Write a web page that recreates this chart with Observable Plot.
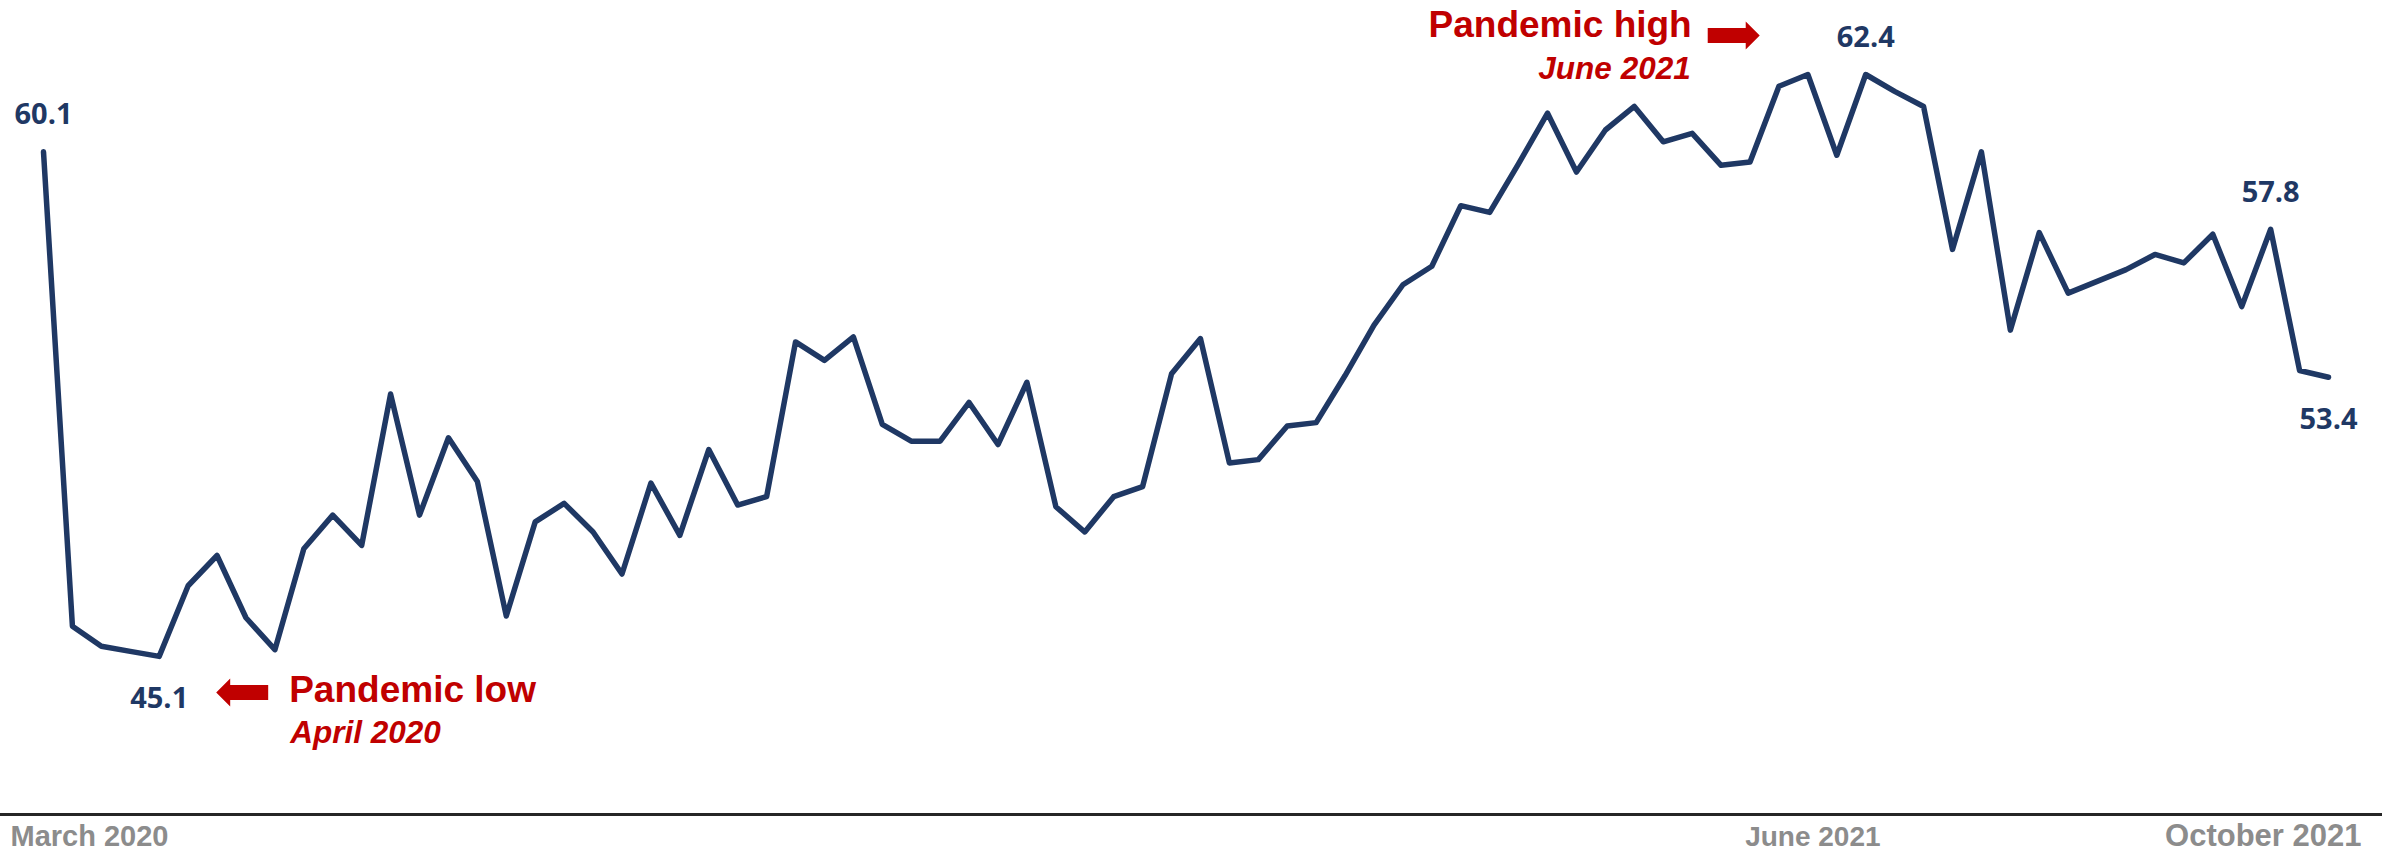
<!DOCTYPE html>
<html>
<head>
<meta charset="utf-8">
<script src="https://cdn.jsdelivr.net/npm/d3@7"></script>
<script src="https://cdn.jsdelivr.net/npm/@observablehq/plot@0.6"></script>
<style>
  html, body { margin: 0; padding: 0; background: #ffffff; }
  #chart svg { display: block; }
</style>
</head>
<body>
<div id="chart"></div>
<script>
// Weekly index values, March 2020 – October 2021
const values = [
  60.1, 46.0, 45.4, 45.25, 45.1, 47.2, 48.1, 46.25, 45.3, 48.3,
  49.3, 48.4, 52.9, 49.3, 51.6, 50.3, 46.3, 49.1, 49.65, 48.8,
  47.55, 50.25, 48.7, 51.25, 49.6, 49.85, 54.45, 53.9, 54.6, 52.0,
  51.5, 51.5, 52.65, 51.4, 53.25, 49.55, 48.8, 49.85, 50.15, 53.5,
  54.55, 50.85, 50.95, 51.95, 52.05, 53.45, 54.95, 56.15, 56.7, 58.5,
  58.3, 59.75, 61.25, 59.5, 60.75, 61.45, 60.4, 60.65, 59.7, 59.8,
  62.05, 62.4, 60.0, 62.4, 61.9, 61.45, 57.2, 60.1, 54.8, 57.7,
  55.9, 56.25, 56.6, 57.05, 56.8, 57.65, 55.5, 57.8, 53.6, 53.4
];
const weeks = values.map((_, i) => i);

// Axis tick labels
const tickWeeks = [0, 61, 79];
const tickLabels = ["March 2020", "June 2021", "October 2021"];

// Value labels
const labelAboveWeeks = [0, 63, 77];
const labelBelowWeeks = [4, 79];

// Annotations
const annoWeeks = [4, 63];
const annoTitles = ["Pandemic low", "Pandemic high"];
const annoDates = ["April 2020", "June 2021"];

const yDomain = [40.4, 64.6];

const NAVY = "#1f3864";
const RED = "#c00000";
const GRAY = "#8c8c8c";

const data = weeks.map((w, i) => ({week: w, value: values[i]}));
const pick = (ws) => ws.map(w => data[w]);
const fmt = d3.format(".1f");

function blockArrow(dir) {
  return {
    draw(ctx) {
      const L = 26, hb = 12, hh = 14, sh = 7.5, s = dir;
      ctx.moveTo(s * L, 0);
      ctx.lineTo(s * hb, -hh);
      ctx.lineTo(s * hb, -sh);
      ctx.lineTo(-s * L, -sh);
      ctx.lineTo(-s * L, sh);
      ctx.lineTo(s * hb, sh);
      ctx.lineTo(s * hb, hh);
      ctx.closePath();
    }
  };
}

const low = data[annoWeeks[0]];
const high = data[annoWeeks[1]];

const labelFont = "'Open Sans', 'DejaVu Sans', sans-serif";
const arial = "'Liberation Sans', Arial, sans-serif";

const chart = Plot.plot({
  width: 2389,
  height: 859,
  marginLeft: 43,
  marginRight: 61,
  marginTop: 0,
  marginBottom: 45,
  x: {domain: [weeks[0], weeks[weeks.length - 1]], axis: null},
  y: {domain: yDomain, axis: null},
  style: {background: "#ffffff", overflow: "visible"},
  marks: [
    Plot.ruleY([yDomain[0]], {stroke: "#262626", strokeWidth: 3, insetLeft: -43, insetRight: -54}),
    Plot.line(data, {x: "week", y: "value", stroke: NAVY, strokeWidth: 5.5, strokeLinejoin: "round"}),
    // value labels
    Plot.text(pick(labelAboveWeeks), {x: "week", y: "value", text: d => fmt(d.value), dy: -37,
      fill: NAVY, fontSize: 29, fontWeight: "bold", fontFamily: labelFont}),
    Plot.text(pick(labelBelowWeeks), {x: "week", y: "value", text: d => fmt(d.value), dy: 42,
      fill: NAVY, fontSize: 29, fontWeight: "bold", fontFamily: labelFont}),
    // pandemic low annotation
    Plot.dot([low], {x: "week", y: "value", symbol: blockArrow(-1), fill: RED, dx: 83, dy: 36}),
    Plot.text([low], {x: "week", y: "value", text: () => annoTitles[0], textAnchor: "start", dx: 130, dy: 34,
      fill: RED, fontSize: 37, fontWeight: "bold", fontFamily: arial}),
    Plot.text([low], {x: "week", y: "value", text: () => annoDates[0], textAnchor: "start", dx: 131, dy: 76,
      fill: RED, fontSize: 31.5, fontWeight: "bold", fontStyle: "italic", fontFamily: arial}),
    // pandemic high annotation
    Plot.dot([high], {x: "week", y: "value", symbol: blockArrow(1), fill: RED, dx: -132, dy: -39}),
    Plot.text([high], {x: "week", y: "value", text: () => annoTitles[1], textAnchor: "end", dx: -174, dy: -49,
      fill: RED, fontSize: 37, fontWeight: "bold", fontFamily: arial}),
    Plot.text([high], {x: "week", y: "value", text: () => annoDates[1], textAnchor: "end", dx: -175, dy: -6,
      fill: RED, fontSize: 31.5, fontWeight: "bold", fontStyle: "italic", fontFamily: arial}),
    // x tick labels
    Plot.text([tickWeeks[0]], {x: d => d, frameAnchor: "bottom", dy: 31, dx: -33, text: () => tickLabels[0],
      textAnchor: "start", fill: GRAY, fontSize: 29, fontWeight: "bold", fontFamily: arial}),
    Plot.text([tickWeeks[1]], {x: d => d, frameAnchor: "bottom", dy: 31, dx: 5, text: () => tickLabels[1],
      textAnchor: "middle", fill: GRAY, fontSize: 28, fontWeight: "bold", fontFamily: arial}),
    Plot.text([tickWeeks[2]], {x: d => d, frameAnchor: "bottom", dy: 31, dx: 33, text: () => tickLabels[2],
      textAnchor: "end", fill: GRAY, fontSize: 31, fontWeight: "bold", fontFamily: arial})
  ]
});

document.getElementById("chart").appendChild(chart);
</script>
</body>
</html>
